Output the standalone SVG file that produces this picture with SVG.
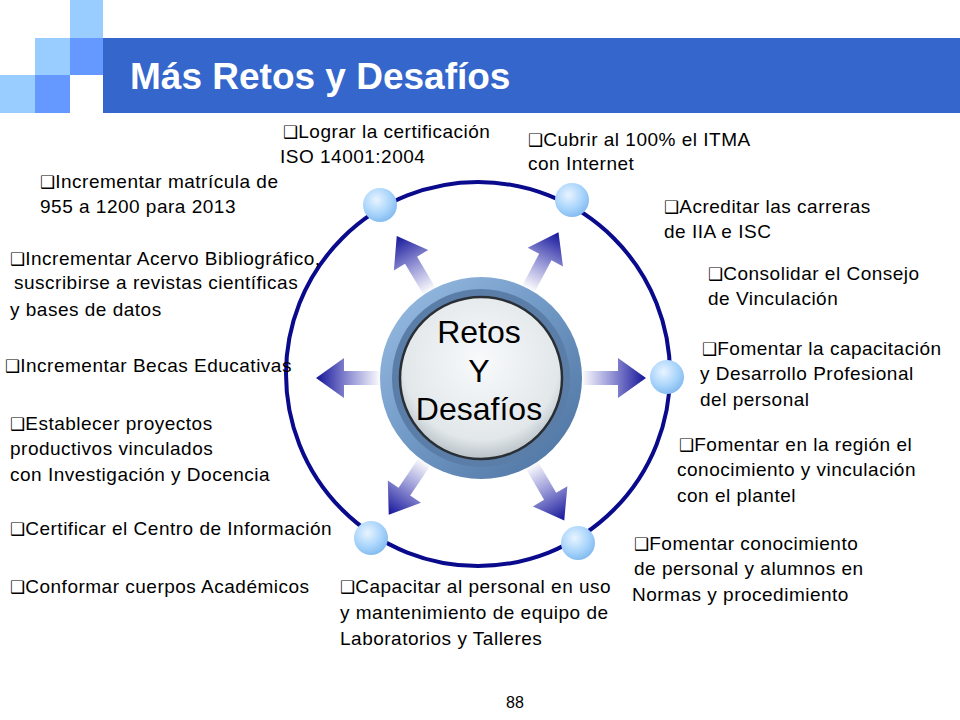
<svg xmlns="http://www.w3.org/2000/svg" width="960" height="720" viewBox="0 0 960 720">
<defs>
<style>
.t{font-family:"Liberation Sans",Arial,sans-serif;font-size:19px;letter-spacing:0.5px;fill:#000}
.b{font-family:"DejaVu Sans",sans-serif;font-size:17px;letter-spacing:0}
</style>
<linearGradient id="ag" x1="100" y1="0" x2="165" y2="0" gradientUnits="userSpaceOnUse">
<stop offset="0" stop-color="#ffffff"/><stop offset="0.45" stop-color="#9a9ad8"/><stop offset="1" stop-color="#14149a"/>
</linearGradient>
<radialGradient id="sg" cx="0.4" cy="0.35" r="0.7">
<stop offset="0" stop-color="#e8f4ff"/><stop offset="0.6" stop-color="#a8d4fb"/><stop offset="1" stop-color="#7fb8ee"/>
</radialGradient>
<linearGradient id="og" x1="0" y1="0" x2="1" y2="1">
<stop offset="0" stop-color="#9cc0e6"/><stop offset="0.5" stop-color="#6f97c4"/><stop offset="1" stop-color="#4a6f9c"/>
</linearGradient>
<radialGradient id="ig" cx="0.5" cy="0.4" r="0.6">
<stop offset="0" stop-color="#f8fafb"/><stop offset="0.8" stop-color="#e2e7ea"/><stop offset="1" stop-color="#b9c2c8"/>
</radialGradient>
<path id="arr" d="M100,-7 L137,-7 L137,-20 L165,0 L137,20 L137,7 L100,7 Z" fill="url(#ag)"/>
<circle id="sph" r="17" fill="url(#sg)"/>
</defs>
<rect width="960" height="720" fill="#fff"/>
<g id="header">
<rect x="103" y="38" width="857" height="75" fill="#3466cc"/>
<rect x="70" y="0" width="33" height="38" fill="#99ccff"/>
<rect x="35" y="38" width="35" height="37" fill="#99ccff"/>
<rect x="70" y="38" width="33" height="37" fill="#6699ff"/>
<rect x="0" y="75" width="35" height="38" fill="#99ccff"/>
<rect x="35" y="75" width="35" height="38" fill="#6699ff"/>
<text x="130" y="89" font-family="Liberation Sans,Arial,sans-serif" font-size="37" font-weight="bold" fill="#fff">Más Retos y Desafíos</text>
</g>
<g id="connectors">
<circle cx="478" cy="374" r="192" fill="none" stroke="#0a0a8c" stroke-width="4"/>
<g transform="translate(481,378)">
<use href="#arr" transform="rotate(-120.7)"/>
<use href="#arr" transform="rotate(-62)"/>
<use href="#arr" transform="rotate(0)"/>
<use href="#arr" transform="rotate(180)"/>
<use href="#arr" transform="rotate(124)"/>
<use href="#arr" transform="rotate(59.7)"/>
</g>
</g>
<g id="nodes">
<use href="#sph" x="380" y="205"/>
<use href="#sph" x="572" y="200"/>
<use href="#sph" x="667" y="377"/>
<use href="#sph" x="578" y="543"/>
<use href="#sph" x="371" y="538"/>
</g>
<g id="center">
<circle cx="481" cy="378" r="101" fill="url(#og)"/>
<circle cx="481" cy="378" r="89" fill="#5b7ea8"/>
<circle cx="481" cy="378" r="81" fill="url(#ig)" stroke="#2a2f35" stroke-width="2.5"/>
<g font-family="Liberation Sans,Arial,sans-serif" font-size="32" text-anchor="middle" fill="#000">
<text x="479" y="343">Retos</text><text x="479" y="382">Y</text><text x="479" y="420">Desafíos</text>
</g>
</g>
<g id="labels" class="t">
<text x="283" y="138"><tspan class="b">❑</tspan>Lograr la certificación</text>
<text x="280" y="163">ISO 14001:2004</text>
<text x="528" y="146"><tspan class="b">❑</tspan>Cubrir al 100% el ITMA</text>
<text x="528" y="170">con Internet</text>
<text x="40" y="188"><tspan class="b">❑</tspan>Incrementar matrícula de</text>
<text x="40" y="213">955 a 1200 para 2013</text>
<text x="664" y="213"><tspan class="b">❑</tspan>Acreditar las carreras</text>
<text x="664" y="238">de IIA e ISC</text>
<text x="10" y="265"><tspan class="b">❑</tspan>Incrementar Acervo Bibliográfico,</text>
<text x="14" y="289">suscribirse a revistas científicas</text>
<text x="10" y="316">y bases de datos</text>
<text x="708" y="280"><tspan class="b">❑</tspan>Consolidar el Consejo</text>
<text x="708" y="305">de Vinculación</text>
<text x="702" y="355"><tspan class="b">❑</tspan>Fomentar la capacitación</text>
<text x="700" y="380">y Desarrollo Profesional</text>
<text x="700" y="406">del personal</text>
<text x="5" y="372"><tspan class="b">❑</tspan>Incrementar Becas Educativas</text>
<text x="10" y="430"><tspan class="b">❑</tspan>Establecer proyectos</text>
<text x="10" y="455">productivos vinculados</text>
<text x="10" y="481">con Investigación y Docencia</text>
<text x="679" y="451"><tspan class="b">❑</tspan>Fomentar en la región el</text>
<text x="677" y="476">conocimiento y vinculación</text>
<text x="677" y="502">con el plantel</text>
<text x="10" y="535"><tspan class="b">❑</tspan>Certificar el Centro de Información</text>
<text x="634" y="550"><tspan class="b">❑</tspan>Fomentar conocimiento</text>
<text x="634" y="575">de personal y alumnos en</text>
<text x="632" y="601">Normas y procedimiento</text>
<text x="10" y="593"><tspan class="b">❑</tspan>Conformar cuerpos Académicos</text>
<text x="340" y="593"><tspan class="b">❑</tspan>Capacitar al personal en uso</text>
<text x="340" y="619">y mantenimiento de equipo de</text>
<text x="340" y="645">Laboratorios y Talleres</text>
<text x="515" y="708" text-anchor="middle" font-size="16" letter-spacing="0">88</text>
</g>
</svg>
